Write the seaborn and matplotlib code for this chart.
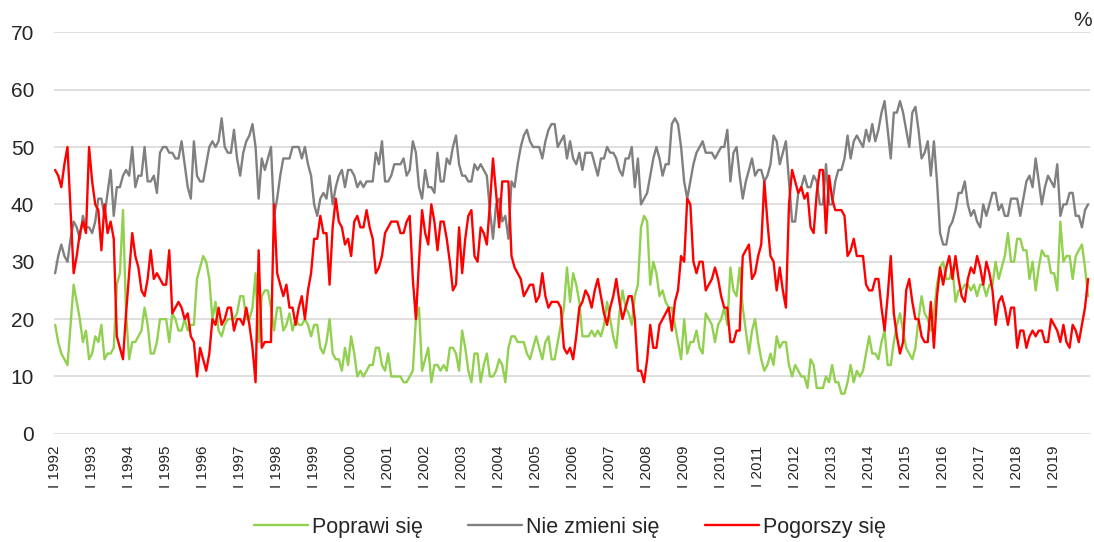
import numpy as np
import pandas as pd
import seaborn as sns
import matplotlib.pyplot as plt

# Monthly survey shares (%), Jan 1992 - Dec 2019, one row per year
years = list(range(1992, 2020))
series_names = ["Poprawi się", "Nie zmieni się", "Pogorszy się"]
series_colors = ["#92D050", "#808080", "#FF0000"]

poprawi = [
    19, 16, 14, 13, 12, 19, 26, 23, 20, 16, 18, 13,
    14, 17, 16, 19, 13, 14, 14, 15, 26, 28, 39, 21,
    13, 16, 16, 17, 18, 22, 19, 14, 14, 16, 20, 20,
    20, 16, 21, 20, 18, 18, 20, 18, 19, 19, 27, 29,
    31, 30, 27, 20, 23, 18, 17, 19, 20, 20, 20, 21,
    24, 24, 20, 20, 22, 28, 16, 24, 25, 25, 22, 18,
    22, 22, 18, 19, 21, 18, 20, 19, 19, 20, 19, 17,
    19, 19, 15, 14, 16, 20, 14, 13, 13, 11, 15, 12,
    17, 14, 10, 11, 10, 11, 12, 12, 15, 15, 12, 11,
    14, 10, 10, 10, 10, 9, 9, 10, 11, 20, 22, 11,
    13, 15, 9, 12, 12, 11, 12, 11, 15, 15, 14, 11,
    18, 15, 11, 9, 14, 14, 9, 12, 14, 10, 10, 11,
    13, 12, 9, 15, 17, 17, 16, 16, 16, 14, 13, 15,
    17, 15, 13, 16, 17, 13, 13, 16, 19, 22, 29, 23,
    28, 26, 23, 17, 17, 17, 18, 17, 18, 17, 19, 23,
    20, 17, 15, 21, 25, 22, 21, 19, 24, 26, 36, 38,
    37, 26, 30, 28, 24, 25, 23, 22, 22, 19, 16, 13,
    20, 14, 16, 16, 18, 15, 14, 21, 20, 19, 16, 19,
    20, 22, 19, 29, 25, 24, 29, 22, 18, 14, 18, 20,
    16, 13, 11, 12, 14, 12, 17, 15, 16, 16, 12, 10,
    12, 11, 10, 10, 8, 13, 12, 8, 8, 8, 10, 9,
    12, 9, 9, 7, 7, 9, 12, 9, 11, 10, 11, 14,
    17, 14, 14, 13, 16, 18, 12, 12, 16, 19, 21, 18,
    15, 14, 13, 15, 20, 24, 21, 20, 18, 21, 26, 29,
    30, 27, 27, 29, 23, 25, 25, 26, 26, 25, 26, 24,
    26, 26, 24, 26, 26, 30, 27, 29, 31, 35, 30, 30,
    34, 34, 32, 32, 27, 30, 25, 29, 32, 31, 31, 28,
    28, 25, 37, 30, 31, 31, 27, 31, 32, 33, 29, 24,
]

nie_zmieni = [
    28, 31, 33, 31, 30, 34, 37, 36, 34, 38, 36, 36,
    35, 37, 41, 41, 38, 42, 46, 38, 43, 43, 45, 46,
    45, 50, 43, 45, 45, 50, 44, 44, 45, 42, 49, 50,
    50, 49, 49, 48, 48, 51, 47, 43, 41, 51, 45, 44,
    44, 47, 50, 51, 50, 51, 55, 50, 49, 49, 53, 48,
    45, 49, 51, 52, 54, 50, 41, 48, 46, 48, 50, 38,
    41, 45, 48, 48, 48, 50, 50, 50, 48, 50, 47, 45,
    40, 38, 41, 42, 41, 45, 40, 43, 45, 46, 43, 46,
    46, 45, 43, 44, 43, 44, 44, 44, 49, 47, 51, 44,
    44, 45, 47, 47, 47, 48, 45, 46, 51, 49, 43, 41,
    46, 43, 43, 42, 49, 44, 44, 48, 47, 50, 52, 47,
    45, 45, 44, 44, 47, 46, 47, 46, 45, 39, 34, 40,
    41, 37, 38, 34, 44, 43, 47, 50, 52, 53, 51, 50,
    50, 50, 48, 51, 53, 54, 54, 50, 51, 52, 48, 51,
    48, 47, 49, 46, 49, 49, 49, 47, 45, 48, 48, 50,
    49, 49, 48, 46, 45, 48, 48, 50, 43, 48, 40, 41,
    42, 45, 48, 50, 48, 45, 47, 47, 54, 55, 54, 50,
    44, 41, 44, 47, 49, 50, 51, 49, 49, 49, 48, 49,
    50, 50, 53, 44, 49, 50, 45, 41, 44, 46, 48, 45,
    46, 46, 44, 45, 47, 52, 51, 47, 49, 51, 44, 37,
    37, 42, 43, 45, 43, 43, 45, 44, 40, 40, 47, 40,
    40, 44, 46, 46, 48, 52, 48, 51, 52, 51, 50, 53,
    51, 54, 51, 53, 56, 58, 53, 48, 56, 56, 58, 56,
    53, 50, 56, 57, 53, 48, 49, 51, 45, 51, 44, 35,
    33, 33, 36, 37, 39, 42, 42, 44, 40, 38, 39, 37,
    36, 40, 38, 40, 42, 42, 39, 40, 38, 38, 41, 41,
    41, 38, 41, 44, 45, 43, 48, 44, 40, 43, 45, 44,
    43, 47, 38, 40, 40, 42, 42, 38, 38, 36, 39, 40,
]

pogorszy = [
    46, 45, 43, 47, 50, 39, 28, 31, 35, 37, 35, 50,
    44, 40, 39, 32, 40, 35, 37, 34, 17, 15, 13, 21,
    28, 35, 31, 29, 25, 24, 27, 32, 27, 28, 27, 26,
    26, 32, 21, 22, 23, 22, 20, 21, 17, 16, 10, 15,
    13, 11, 14, 20, 19, 22, 19, 20, 22, 22, 18, 20,
    20, 19, 22, 19, 15, 9, 32, 15, 16, 16, 16, 40,
    28, 26, 24, 26, 22, 22, 19, 22, 24, 20, 25, 28,
    34, 34, 38, 35, 35, 26, 36, 41, 37, 36, 33, 34,
    31, 37, 38, 36, 36, 39, 36, 34, 28, 29, 31, 35,
    36, 37, 37, 37, 35, 35, 37, 38, 27, 20, 30, 39,
    35, 33, 40, 37, 32, 37, 37, 34, 30, 25, 26, 36,
    28, 34, 38, 39, 31, 30, 36, 35, 33, 40, 48, 42,
    36, 44, 44, 44, 31, 29, 28, 27, 24, 25, 26, 26,
    23, 24, 28, 24, 22, 23, 23, 23, 22, 15, 14, 15,
    13, 17, 22, 23, 25, 24, 22, 25, 27, 24, 21, 19,
    22, 24, 27, 23, 20, 22, 24, 24, 20, 11, 11, 9,
    13, 19, 15, 15, 19, 20, 21, 22, 18, 23, 25, 31,
    30, 41, 40, 30, 28, 30, 30, 25, 26, 27, 29, 27,
    24, 22, 22, 16, 16, 18, 18, 31, 32, 33, 27, 28,
    31, 33, 44, 37, 31, 30, 25, 29, 25, 22, 40, 46,
    44, 42, 43, 41, 42, 36, 35, 42, 46, 46, 35, 45,
    41, 39, 39, 39, 38, 31, 32, 34, 31, 31, 31, 26,
    25, 25, 27, 27, 22, 18, 24, 31, 21, 17, 14, 16,
    25, 27, 23, 20, 20, 17, 16, 16, 23, 15, 24, 29,
    26, 29, 31, 27, 31, 27, 24, 23, 27, 29, 28, 31,
    29, 26, 30, 28, 25, 19, 23, 24, 22, 19, 22, 22,
    15, 18, 18, 15, 17, 18, 17, 18, 18, 16, 16, 20,
    19, 18, 16, 19, 16, 15, 19, 18, 16, 19, 22, 27,
]

n = len(poprawi)
df = pd.DataFrame({
    "t": np.tile(np.arange(n), 3),
    "value": poprawi + nie_zmieni + pogorszy,
    "series": np.repeat(series_names, n),
})

sns.set_style("white")
plt.rcParams["font.family"] = ["Liberation Sans", "DejaVu Sans"]

fig, ax = plt.subplots(figsize=(10.94, 5.42), dpi=100)
fig.subplots_adjust(left=0.049, right=0.996, bottom=0.199, top=0.941)

sns.lineplot(
    data=df, x="t", y="value", hue="series",
    hue_order=series_names, palette=series_colors,
    linewidth=1.7, ax=ax, legend=False,
)

# Axes formatting
ax.set_xlim(-0.5, n - 0.5)
ax.set_ylim(-0.05, 70.05)
ax.set_yticks(range(0, 80, 10))
ax.set_xticks(np.arange(0, n, 12))
ax.set_xticklabels([f"I {y}" for y in years], rotation=90, fontsize=11)
ax.tick_params(axis="y", labelsize=15, length=0, pad=14)
ax.tick_params(axis="x", length=0, pad=8)
ax.set_xlabel("")
ax.set_ylabel("")
ax.grid(axis="y", color="#D9D9D9", linewidth=1.2)
ax.grid(axis="x", visible=False)
ax.set_axisbelow(True)
for s in ax.spines.values():
    s.set_visible(False)

fig.text(1083 / 1094, 1 - 20 / 542, "%", ha="center", va="center", fontsize=15)

# Legend at the bottom
fig.legend(
    ax.lines[:3], series_names, loc="center", bbox_to_anchor=(570 / 1094, 15 / 542),
    ncol=3, frameon=False, fontsize=15.5, handlelength=2.5,
    handletextpad=0.2, columnspacing=2.1,
)

fig.savefig("out.png", dpi=100)
plt.close(fig)
